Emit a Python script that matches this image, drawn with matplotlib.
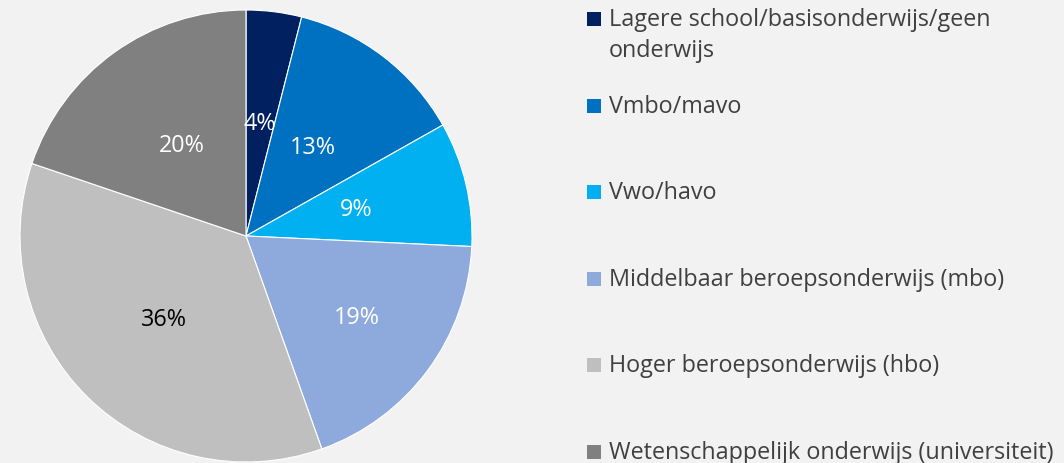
import matplotlib
matplotlib.use("Agg")
import matplotlib.pyplot as plt
from matplotlib.patches import Rectangle
import numpy as np

# Opleidingsniveau (percentages)
categories = [
    "Lagere school/basisonderwijs/geen\nonderwijs",
    "Vmbo/mavo",
    "Vwo/havo",
    "Middelbaar beroepsonderwijs (mbo)",
    "Hoger beroepsonderwijs (hbo)",
    "Wetenschappelijk onderwijs (universiteit)",
]
values = [4, 13, 9, 19, 36, 20]
colors = ["#002060", "#0070C0", "#00B0F0", "#8EA9DB", "#BFBFBF", "#808080"]
label_colors = ["white", "white", "white", "white", "black", "white"]
label_radius = [0.50, 0.49, 0.50, 0.61, 0.52, 0.49]

BG = "#F2F2F2"
TEXT = "#404040"
FONT = "Open Sans"
FS = 16.8

W, H = 1064, 463
fig = plt.figure(figsize=(W / 100, H / 100), dpi=100, facecolor=BG)

cx, cy, r = 246, 236, 226
ax = fig.add_axes([(cx - r) / W, (H - cy - r) / H, 2 * r / W, 2 * r / H])
ax.set_facecolor(BG)

wedges, texts, autotexts = ax.pie(
    values,
    colors=colors,
    startangle=90,
    counterclock=False,
    radius=1.0,
    autopct=lambda p: f"{p:.0f}%",
    pctdistance=0.5,
    wedgeprops=dict(edgecolor="white", linewidth=0.8),
    textprops=dict(fontsize=FS, family=FONT),
)
for w, t, c, rad in zip(wedges, autotexts, label_colors, label_radius):
    ang = np.deg2rad((w.theta1 + w.theta2) / 2)
    t.set_position((rad * np.cos(ang), rad * np.sin(ang)))
    t.set_color(c)
ax.set_xlim(-1, 1)
ax.set_ylim(-1, 1)
ax.set_aspect("auto")
ax.axis("off")

# Legend drawn in pixel coordinates
def fx(px):
    return px / W

def fy(py):
    return (H - py) / H

sq = 14
x_sq, x_txt = 587, 609
base0, step = 26, 86.6
for i, (cat, col) in enumerate(zip(categories, colors)):
    base = base0 + step * i
    fig.patches.append(Rectangle((fx(x_sq), fy(base)), sq / W, sq / H,
                                 transform=fig.transFigure, facecolor=col,
                                 edgecolor="none"))
    lines = cat.split("\n")
    for j, line in enumerate(lines):
        fig.text(fx(x_txt), fy(base + 31 * j), line, fontsize=FS, family=FONT,
                 color=TEXT, ha="left", va="baseline")

fig.savefig("out.png", dpi=100, facecolor=BG)
